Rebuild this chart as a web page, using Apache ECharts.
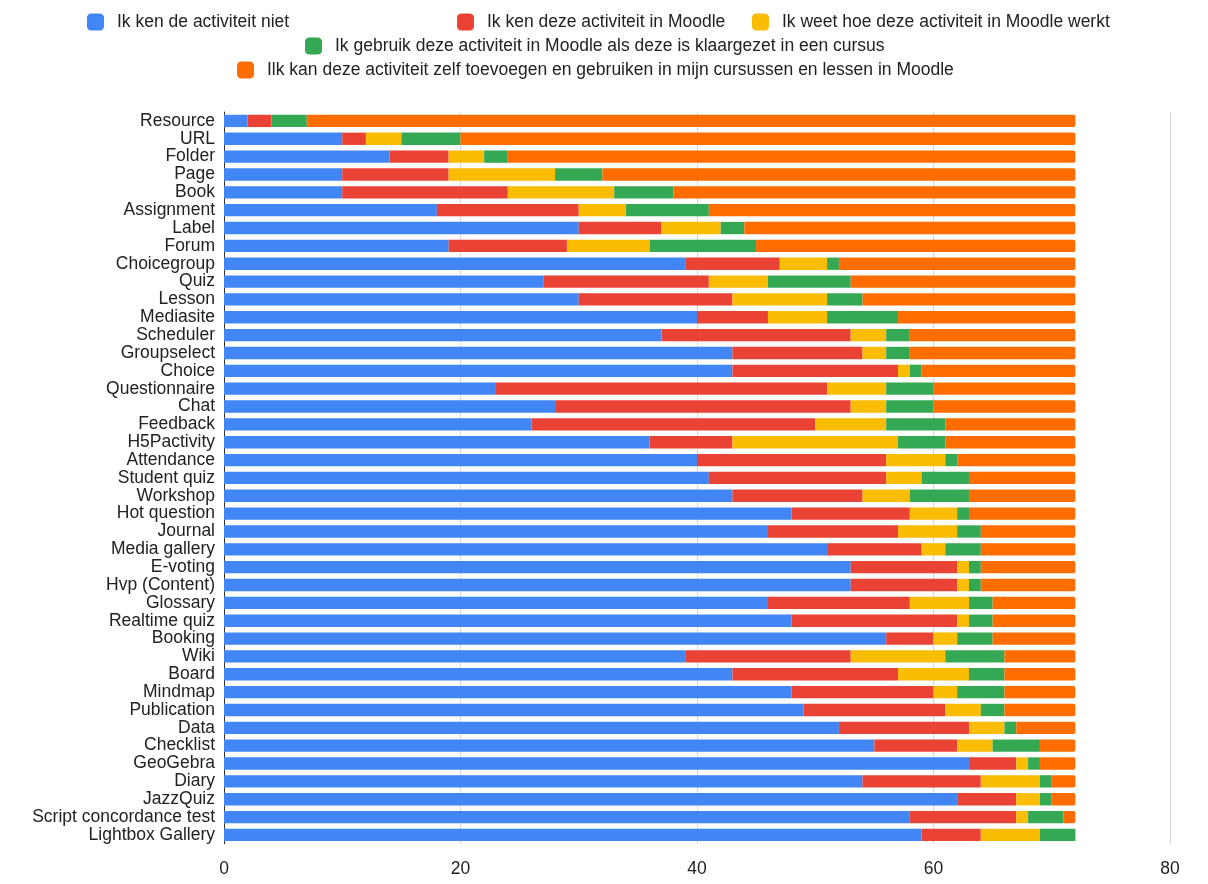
<!doctype html>
<html>
<head>
    <title>Moodle activiteiten</title>
    <script src="https://cdnjs.cloudflare.com/ajax/libs/echarts/6.0.0/echarts.min.js"></script>
</head>
<style>
    html, body {
        margin: 0;
        padding: 0;
        background: #fff;
    }
    #chart {
        width: 1208px;
        height: 884px;
    }
</style>
<body>
<div id="chart"></div>
<script>
  var activities = ['Resource', 'URL', 'Folder', 'Page', 'Book', 'Assignment', 'Label', 'Forum',
    'Choicegroup', 'Quiz', 'Lesson', 'Mediasite', 'Scheduler', 'Groupselect', 'Choice',
    'Questionnaire', 'Chat', 'Feedback', 'H5Pactivity', 'Attendance', 'Student quiz', 'Workshop',
    'Hot question', 'Journal', 'Media gallery', 'E-voting', 'Hvp (Content)', 'Glossary',
    'Realtime quiz', 'Booking', 'Wiki', 'Board', 'Mindmap', 'Publication', 'Data', 'Checklist',
    'GeoGebra', 'Diary', 'JazzQuiz', 'Script concordance test', 'Lightbox Gallery'];

  var seriesNames = [
    'Ik ken de activiteit niet',
    'Ik ken deze activiteit in Moodle',
    'Ik weet hoe deze activiteit in Moodle werkt',
    'Ik gebruik deze activiteit in Moodle als deze is klaargezet in een cursus',
    'Ilk kan deze activiteit zelf toevoegen en gebruiken in mijn cursussen en lessen in Moodle'
  ];

  var kenNiet = [2, 10, 14, 10, 10, 18, 30, 19, 39, 27, 30, 40, 37, 43, 43, 23, 28, 26, 36, 40,
    41, 43, 48, 46, 51, 53, 53, 46, 48, 56, 39, 43, 48, 49, 52, 55, 63, 54, 62, 58, 59];
  var kenInMoodle = [2, 2, 5, 9, 14, 12, 7, 10, 8, 14, 13, 6, 16, 11, 14, 28, 25, 24, 7, 16,
    15, 11, 10, 11, 8, 9, 9, 12, 14, 4, 14, 14, 12, 12, 11, 7, 4, 10, 5, 9, 5];
  var weetHoe = [0, 3, 3, 9, 9, 4, 5, 7, 4, 5, 8, 5, 3, 2, 1, 5, 3, 6, 14, 5,
    3, 4, 4, 5, 2, 1, 1, 5, 1, 2, 8, 6, 2, 3, 3, 3, 1, 5, 2, 1, 5];
  var gebruik = [3, 5, 2, 4, 5, 7, 2, 9, 1, 7, 3, 6, 2, 2, 1, 4, 4, 5, 4, 1,
    4, 5, 1, 2, 3, 1, 1, 2, 2, 3, 5, 3, 4, 2, 1, 4, 1, 1, 1, 3, 3];
  var zelfToevoegen = [65, 52, 48, 40, 34, 31, 28, 27, 20, 19, 18, 15, 14, 14, 13, 12, 12, 11, 11, 10,
    9, 9, 9, 8, 8, 8, 8, 7, 7, 7, 6, 6, 6, 6, 5, 3, 3, 2, 2, 1, 0];

  var colors = ['#4285F4', '#EA4335', '#FBBC04', '#34A853', '#FF6D01'];
  var values = [kenNiet, kenInMoodle, weetHoe, gebruik, zelfToevoegen];

  var fontFamily = '"Liberation Sans", Arial, Helvetica, sans-serif';

  // one legend per item so the rows sit like in the original
  var legendPos = [[87, 7], [457, 7], [752, 7], [305, 31], [237, 55]];
  var legends = seriesNames.map(function (name, i) {
    return {
      data: [name],
      left: legendPos[i][0],
      top: legendPos[i][1],
      padding: 0,
      icon: 'roundRect',
      itemWidth: 17,
      itemHeight: 17,
      selectedMode: false,
      textStyle: {
        fontFamily: fontFamily,
        fontSize: 17.5,
        color: '#222',
        padding: [0, 0, 0, 8]
      }
    };
  });

  var series = seriesNames.map(function (name, i) {
    var s = {
      name: name,
      type: 'bar',
      stack: 'total',
      barCategoryGap: '31%',
      itemStyle: { color: colors[i] },
      emphasis: { disabled: true },
      data: values[i]
    };
    if (i === 4) {
      s.itemStyle.borderRadius = [0, 2, 2, 0];
    }
    return s;
  });

  var myChart = echarts.init(document.getElementById('chart'));
  var option = {
    animation: false,
    color: colors,
    legend: legends,
    grid: {
      left: 224,
      right: 38,
      top: 112,
      bottom: 31
    },
    xAxis: {
      type: 'value',
      min: 0,
      max: 80,
      interval: 20,
      axisLine: { show: false },
      axisTick: { show: false },
      splitLine: { lineStyle: { color: '#d6d6d6', width: 1 } },
      axisLabel: {
        margin: 10,
        fontFamily: fontFamily,
        fontSize: 17.5,
        color: '#222'
      }
    },
    yAxis: {
      type: 'category',
      inverse: true,
      data: activities,
      axisLine: { show: true, lineStyle: { color: '#333', width: 1 } },
      axisTick: { show: false },
      axisLabel: {
        margin: 9,
        interval: 0,
        fontFamily: fontFamily,
        fontSize: 17.5,
        color: '#222'
      }
    },
    series: series
  };

  myChart.setOption(option);
</script>
</body>
</html>
